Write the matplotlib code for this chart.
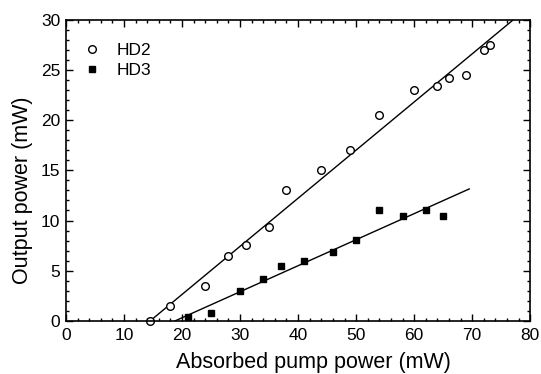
import matplotlib
matplotlib.use("Agg")
import matplotlib.pyplot as plt
import numpy as np
from matplotlib.ticker import MultipleLocator

plt.rcParams['font.family'] = ['Liberation Sans', 'DejaVu Sans']

hd2_x = [14.5, 18, 24, 28, 31, 35, 38, 44, 49, 54, 60, 64, 66, 69, 72, 73]
hd2_y = [0.0, 1.5, 3.5, 6.5, 7.6, 9.4, 13.0, 15.0, 17.0, 20.5, 23.0, 23.4, 24.2, 24.5, 27.0, 27.5]
hd3_x = [21, 25, 30, 34, 37, 41, 46, 50, 54, 58, 62, 65]
hd3_y = [0.4, 0.8, 3.0, 4.2, 5.5, 6.0, 6.9, 8.1, 11.0, 10.5, 11.0, 10.5]

fit2_x = [14.5, 80]
fit2_y = [0.0, 31.4]
fit3_x = [18.8, 69.5]
fit3_y = [0.0, 13.15]

fig = plt.figure(figsize=(5.41, 3.74), dpi=100)
ax = fig.add_axes([0.122, 0.142, 0.858, 0.805])

ax.plot(fit2_x, fit2_y, color='black', lw=1.0)
ax.plot(fit3_x, fit3_y, color='black', lw=1.0)
ax.plot(hd2_x, hd2_y, 'o', mfc='white', mec='black', ms=5.5, mew=1.0, label='HD2', clip_on=False)
ax.plot(hd3_x, hd3_y, 's', mfc='black', mec='black', ms=5, label='HD3', clip_on=False)

ax.set_xlim(0, 80)
ax.set_ylim(0, 30)
ax.xaxis.set_major_locator(MultipleLocator(10))
ax.xaxis.set_minor_locator(MultipleLocator(2))
ax.yaxis.set_major_locator(MultipleLocator(5))
ax.yaxis.set_minor_locator(MultipleLocator(1))
ax.tick_params(which='both', direction='in', top=True, right=True, labelsize=12.5)
ax.tick_params(which='major', length=5, width=1)
ax.tick_params(which='minor', length=2.5, width=1)
ax.tick_params(axis='x', pad=5)
ax.tick_params(axis='y', pad=4)
for s in ax.spines.values():
    s.set_linewidth(1.2)

ax.set_xlabel('Absorbed pump power (mW)', fontsize=15.5)
ax.set_ylabel('Output power (mW)', fontsize=15.5, labelpad=6)
ax.xaxis.set_label_coords(0.532, -0.102, transform=ax.transAxes)
ax.xaxis.label.set_va('top')
ax.yaxis.label.set_y(0.435)

leg = ax.legend(loc='upper left', frameon=False, fontsize=12.5, handlelength=1.0,
                handletextpad=0.9, borderaxespad=0.6, labelspacing=0.25,
                bbox_to_anchor=(0.0, 0.98))

fig.savefig('out.png', dpi=100)
